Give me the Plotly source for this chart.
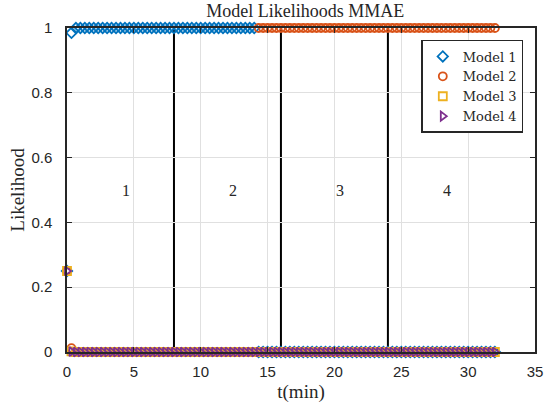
import plotly.graph_objects as go

# Sample times (min), one every 20 s from 0 to 32 min
t = [round(k / 3, 4) for k in range(97)]

# Posterior model probabilities of the MMAE filter
model1 = [0.25, 0.985] + [1.0] * 41 + [0.0] * 54
model2 = [0.25, 0.012] + [0.0] * 41 + [1.0] * 54
model3 = [0.25, 0.002] + [0.0] * 95
model4 = [0.25, 0.001] + [0.0] * 95

series = [
    ("Model 1", model1, "diamond-open", "#0072BD"),
    ("Model 2", model2, "circle-open", "#D95319"),
    ("Model 3", model3, "square-open", "#EDB120"),
    ("Model 4", model4, "triangle-right-open", "#7E2F8E"),
]

# Fault-phase boundaries and phase labels
phase_bounds = [8, 16, 24]
phase_names = ["1", "2", "3", "4"]
phase_starts = [4, 12, 20, 28]
phase_label_y = 0.5

serif = "Liberation Serif, DejaVu Serif, serif"
sans = "Liberation Sans, Arial, sans-serif"
ink = "#262626"

fig = go.Figure()
for name, vals, sym, col in series:
    fig.add_trace(go.Scatter(
        x=t, y=vals, mode="markers", name=name, cliponaxis=False,
        marker=dict(symbol=sym, size=8, color=col, line=dict(color=col, width=1.8)),
    ))

for xb in phase_bounds:
    fig.add_shape(type="line", x0=xb, x1=xb, y0=0, y1=1, xref="x", yref="y",
                  line=dict(color="black", width=2), layer="below")

for name, xs in zip(phase_names, phase_starts):
    fig.add_annotation(x=xs, y=phase_label_y, xref="x", yref="y", text=name,
                       showarrow=False, xanchor="left", yanchor="middle",
                       font=dict(family=serif, size=16, color=ink))

fig.update_layout(
    width=555, height=412,
    margin=dict(l=67, r=12, t=28, b=60),
    paper_bgcolor="white", plot_bgcolor="white",
    title=dict(text="Model Likelihoods MMAE", x=0.55, xanchor="center",
               yref="container", y=0.974, yanchor="middle",
               font=dict(family=serif, size=18, color=ink)),
    legend=dict(x=0.975, y=0.963, xanchor="right", yanchor="top",
                bgcolor="white", bordercolor=ink, borderwidth=1.5,
                font=dict(family="DejaVu Serif, serif", size=13, color=ink),
                itemwidth=30, tracegroupgap=0),
    showlegend=True,
)
fig.update_xaxes(
    range=[0, 35], tickvals=[0, 5, 10, 15, 20, 25, 30, 35],
    showgrid=True, gridcolor="#e0e0e0", gridwidth=1, zeroline=False,
    showline=True, linecolor=ink, linewidth=1.5, mirror="ticks",
    ticks="inside", ticklen=5, tickcolor=ink, ticklabelstandoff=5,
    tickfont=dict(family=sans, size=15, color=ink),
    title=dict(text="t(min)", font=dict(family=serif, size=19, color=ink), standoff=6),
)
fig.update_yaxes(
    range=[0, 1], tickvals=[0, 0.2, 0.4, 0.6, 0.8, 1],
    ticktext=["0", "0.2", "0.4", "0.6", "0.8", "1"],
    showgrid=True, gridcolor="#e0e0e0", gridwidth=1, zeroline=False,
    showline=True, linecolor=ink, linewidth=1.5, mirror="ticks",
    ticks="inside", ticklen=5, tickcolor=ink, ticklabelstandoff=10,
    tickfont=dict(family=sans, size=15, color=ink),
    title=dict(text="Likelihood", font=dict(family=serif, size=19, color=ink), standoff=2),
)

fig.write_html("out.html")
